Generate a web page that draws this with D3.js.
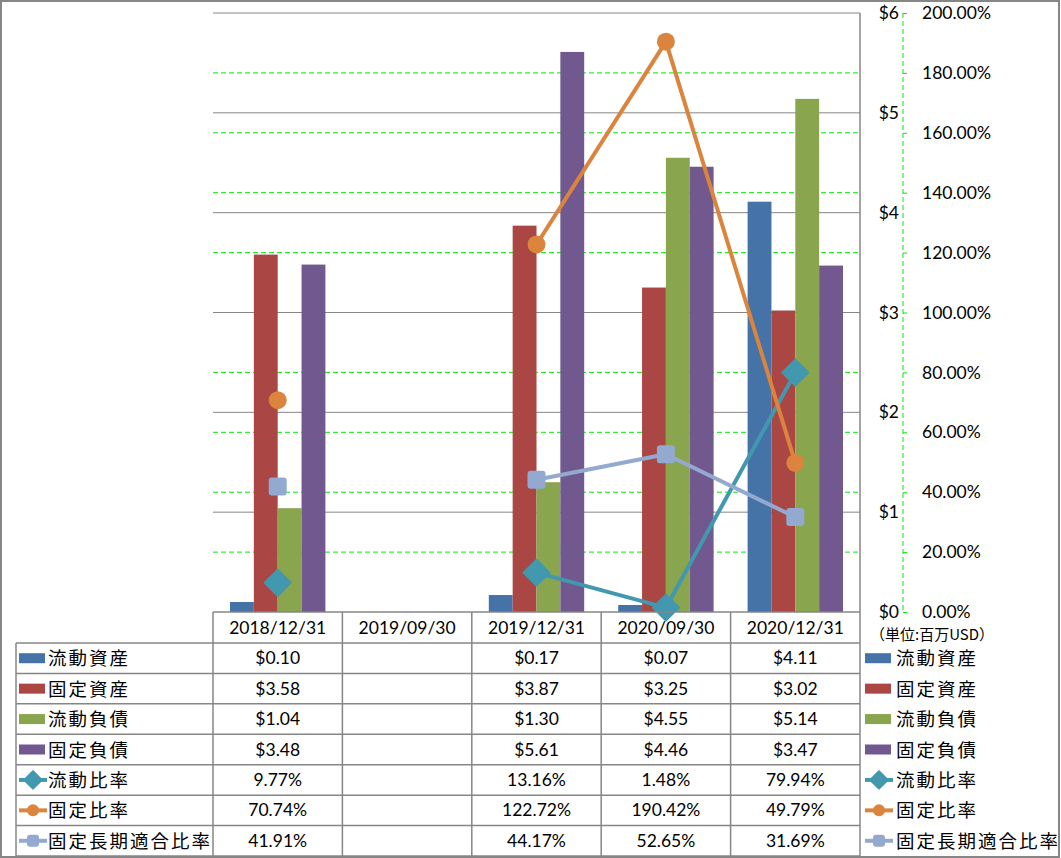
<!DOCTYPE html>
<html>
<head>
<meta charset="utf-8">
<script src="https://cdn.jsdelivr.net/npm/d3@7"></script>
<style>
  body { margin: 0; background: #fff; }
  svg text { fill: #000; }
</style>
</head>
<body>
<svg id="chart" width="1061" height="858"></svg>
<script>
const categories = ['2018/12/31', '2019/09/30', '2019/12/31', '2020/09/30', '2020/12/31'];
const barNames = ['流動資産', '固定資産', '流動負債', '固定負債'];
const currentAssets = [0.10, null, 0.17, 0.07, 4.11];
const fixedAssets = [3.58, null, 3.87, 3.25, 3.02];
const currentLiab = [1.04, null, 1.30, 4.55, 5.14];
const fixedLiab = [3.48, null, 5.61, 4.46, 3.47];
const lineNames = ['流動比率', '固定比率', '固定長期適合比率'];
const currentRatio = [9.77, null, 13.16, 1.48, 79.94];
const fixedRatio = [70.74, null, 122.72, 190.42, 49.79];
const longTermRatio = [41.91, null, 44.17, 52.65, 31.69];
const dollarTicks = [0, 1, 2, 3, 4, 5, 6];
const pctTicks = [0, 20, 40, 60, 80, 100, 120, 140, 160, 180, 200];
const unitLabel = '（単位:百万USD）';

const barValues = [currentAssets, fixedAssets, currentLiab, fixedLiab];
const lineValues = [currentRatio, fixedRatio, longTermRatio];
const barColors = ['#4572A7', '#AA4643', '#89A54E', '#71588F'];
const lineColors = ['#4198AF', '#DB843D', '#93A9CF'];
const markers = ['diamond', 'circle', 'square'];

const svg = d3.select('#chart');
const plotL = 213, plotR = 860, plotT = 13, plotB = 612;
const gridGray = '#868686';
const numFont = 'Lato, "Open Sans", sans-serif';
const cjkFont = '"Noto Sans CJK JP", sans-serif';

const x = d3.scaleBand().domain(categories).range([plotL, plotR]);
const xi = d3.scaleBand().domain(barNames).range([17, x.bandwidth() - 17]);
const yD = d3.scaleLinear().domain([0, 6]).range([plotB, plotT]);
const yP = d3.scaleLinear().domain([0, 200]).range([plotB, plotT]);

// outer frame
svg.append('rect').attr('x', 1).attr('y', 1).attr('width', 1058).attr('height', 856)
    .attr('fill', 'none').attr('stroke', gridGray).attr('stroke-width', 2);

// percent gridlines (green dashed)
svg.append('g').selectAll('line').data(pctTicks.filter(d => d % 100 !== 0)).join('line')
    .attr('x1', plotL).attr('x2', plotR)
    .attr('y1', d => yP(d)).attr('y2', d => yP(d))
    .attr('stroke', '#00ee00').attr('stroke-width', 1).attr('stroke-dasharray', '5,3');

// dollar gridlines (gray solid)
svg.append('g').selectAll('line').data(dollarTicks.filter(d => d > 0)).join('line')
    .attr('x1', plotL).attr('x2', plotR)
    .attr('y1', d => yD(d)).attr('y2', d => yD(d))
    .attr('stroke', gridGray).attr('stroke-width', 1);

// bars
barValues.forEach((vals, i) => {
    svg.append('g').selectAll('rect')
        .data(categories.map((c, j) => ({c, v: vals[j]})).filter(d => d.v != null))
        .join('rect')
        .attr('x', d => x(d.c) + xi(barNames[i]))
        .attr('width', xi.bandwidth())
        .attr('y', d => yD(d.v))
        .attr('height', d => plotB - yD(d.v))
        .attr('fill', barColors[i]);
});

// marker helper
function drawMarker(g, type, cx, cy, color, s) {
    if (type === 'diamond') {
        const r = s * 0.72;
        g.append('path').attr('d', `M${cx},${cy - r}L${cx + r},${cy}L${cx},${cy + r}L${cx - r},${cy}Z`)
            .attr('fill', color).attr('stroke', color).attr('stroke-width', 2).attr('stroke-linejoin', 'round');
    } else if (type === 'circle') {
        g.append('circle').attr('cx', cx).attr('cy', cy).attr('r', s / 2).attr('fill', color);
    } else {
        g.append('rect').attr('x', cx - s / 2).attr('y', cy - s / 2).attr('width', s).attr('height', s)
            .attr('rx', 3).attr('fill', color);
    }
}

// lines
lineValues.forEach((vals, i) => {
    const pts = categories.map((c, j) => ({c, v: vals[j]}));
    const line = d3.line()
        .defined(d => d.v != null)
        .x(d => x(d.c) + x.bandwidth() / 2)
        .y(d => yP(d.v));
    svg.append('path').datum(pts).attr('d', line)
        .attr('fill', 'none').attr('stroke', lineColors[i]).attr('stroke-width', 4)
        .attr('stroke-linejoin', 'round');
    const g = svg.append('g');
    pts.filter(d => d.v != null).forEach(d => {
        drawMarker(g, markers[i], x(d.c) + x.bandwidth() / 2, yP(d.v), lineColors[i], 18);
    });
});

// right border of plot / dollar axis line
svg.append('line').attr('x1', plotR).attr('x2', plotR).attr('y1', plotT).attr('y2', 856)
    .attr('stroke', gridGray).attr('stroke-width', 1.5);

// dollar labels
const axD = svg.append('g').attr('transform', 'translate(902,0)')
    .call(d3.axisLeft(yD).tickValues(dollarTicks).tickSize(0).tickPadding(3).tickFormat(d => '$' + d));
axD.select('.domain').remove();
axD.selectAll('text').style('font-family', numFont).style('font-size', '17.5px').attr('fill', '#000');

// percent axis
const axP = svg.append('g').attr('transform', 'translate(903,0)')
    .call(d3.axisRight(yP).tickValues(pctTicks).tickSize(4).tickPadding(15).tickFormat(d => d3.format('.2f')(d) + '%'));
axP.select('.domain').attr('stroke', '#00ee00').attr('stroke-dasharray', '5,3').attr('d', `M0,${plotT}V${plotB}`);
axP.selectAll('.tick line').attr('stroke', '#00ee00');
axP.selectAll('text').style('font-family', numFont).style('font-size', '17.5px').attr('fill', '#000');

svg.append('text').text(unitLabel).attr('x', 870).attr('y', 640)
    .style('font-family', cjkFont).style('font-size', '15px');

// data table
const tblL = 16, rowTop = 643, rowH = (856 - 643) / 7, tblB = 856;
const rowNames = barNames.concat(lineNames);
const rowVals = barValues.concat(lineValues);
const fmtD = v => v == null ? '' : '$' + d3.format('.2f')(v);
const fmtP = v => v == null ? '' : d3.format('.2f')(v) + '%';
const tbl = svg.append('g');

// horizontal lines
tbl.append('line').attr('x1', plotL).attr('x2', plotR).attr('y1', plotB).attr('y2', plotB)
    .attr('stroke', gridGray).attr('stroke-width', 1.5);
d3.range(8).forEach(k => {
    tbl.append('line').attr('x1', tblL).attr('x2', plotR)
        .attr('y1', rowTop + k * rowH).attr('y2', rowTop + k * rowH)
        .attr('stroke', gridGray).attr('stroke-width', 1.5);
});
// vertical lines
tbl.append('line').attr('x1', tblL).attr('x2', tblL).attr('y1', rowTop).attr('y2', tblB)
    .attr('stroke', gridGray).attr('stroke-width', 1.5);
categories.forEach(c => {
    tbl.append('line').attr('x1', x(c)).attr('x2', x(c)).attr('y1', plotB).attr('y2', tblB)
        .attr('stroke', gridGray).attr('stroke-width', 1.5);
});

// header
tbl.selectAll('text.hdr').data(categories).join('text').attr('class', 'hdr')
    .attr('x', d => x(d) + x.bandwidth() / 2).attr('y', (plotB + rowTop) / 2 + 6)
    .attr('text-anchor', 'middle').text(d => d)
    .style('font-family', numFont).style('font-size', '17.5px');

function legendKey(g, k, kx, cy) {
    if (k < 4) {
        g.append('rect').attr('x', kx).attr('y', cy - 5).attr('width', 26).attr('height', 10).attr('fill', barColors[k]);
    } else {
        const i = k - 4;
        g.append('line').attr('x1', kx).attr('x2', kx + 28).attr('y1', cy).attr('y2', cy)
            .attr('stroke', lineColors[i]).attr('stroke-width', 4);
        drawMarker(g, markers[i], kx + 14, cy, lineColors[i], 12);
    }
}

rowNames.forEach((name, k) => {
    const cy = rowTop + k * rowH + rowH / 2;
    legendKey(tbl, k, 19, cy);
    tbl.append('text').text(name).attr('x', 48).attr('y', cy + 7)
        .style('font-family', cjkFont).style('font-size', '18.5px').style('letter-spacing', '2px');
    categories.forEach((c, j) => {
        const v = rowVals[k][j];
        tbl.append('text').text(k < 4 ? fmtD(v) : fmtP(v))
            .attr('x', x(c) + x.bandwidth() / 2).attr('y', cy + 6).attr('text-anchor', 'middle')
            .style('font-family', numFont).style('font-size', '17.5px');
    });
    // right legend
    legendKey(svg, k, 865, cy);
    svg.append('text').text(name).attr('x', 896).attr('y', cy + 7)
        .style('font-family', cjkFont).style('font-size', '18.5px').style('letter-spacing', '2px');
});
</script>
</body>
</html>
